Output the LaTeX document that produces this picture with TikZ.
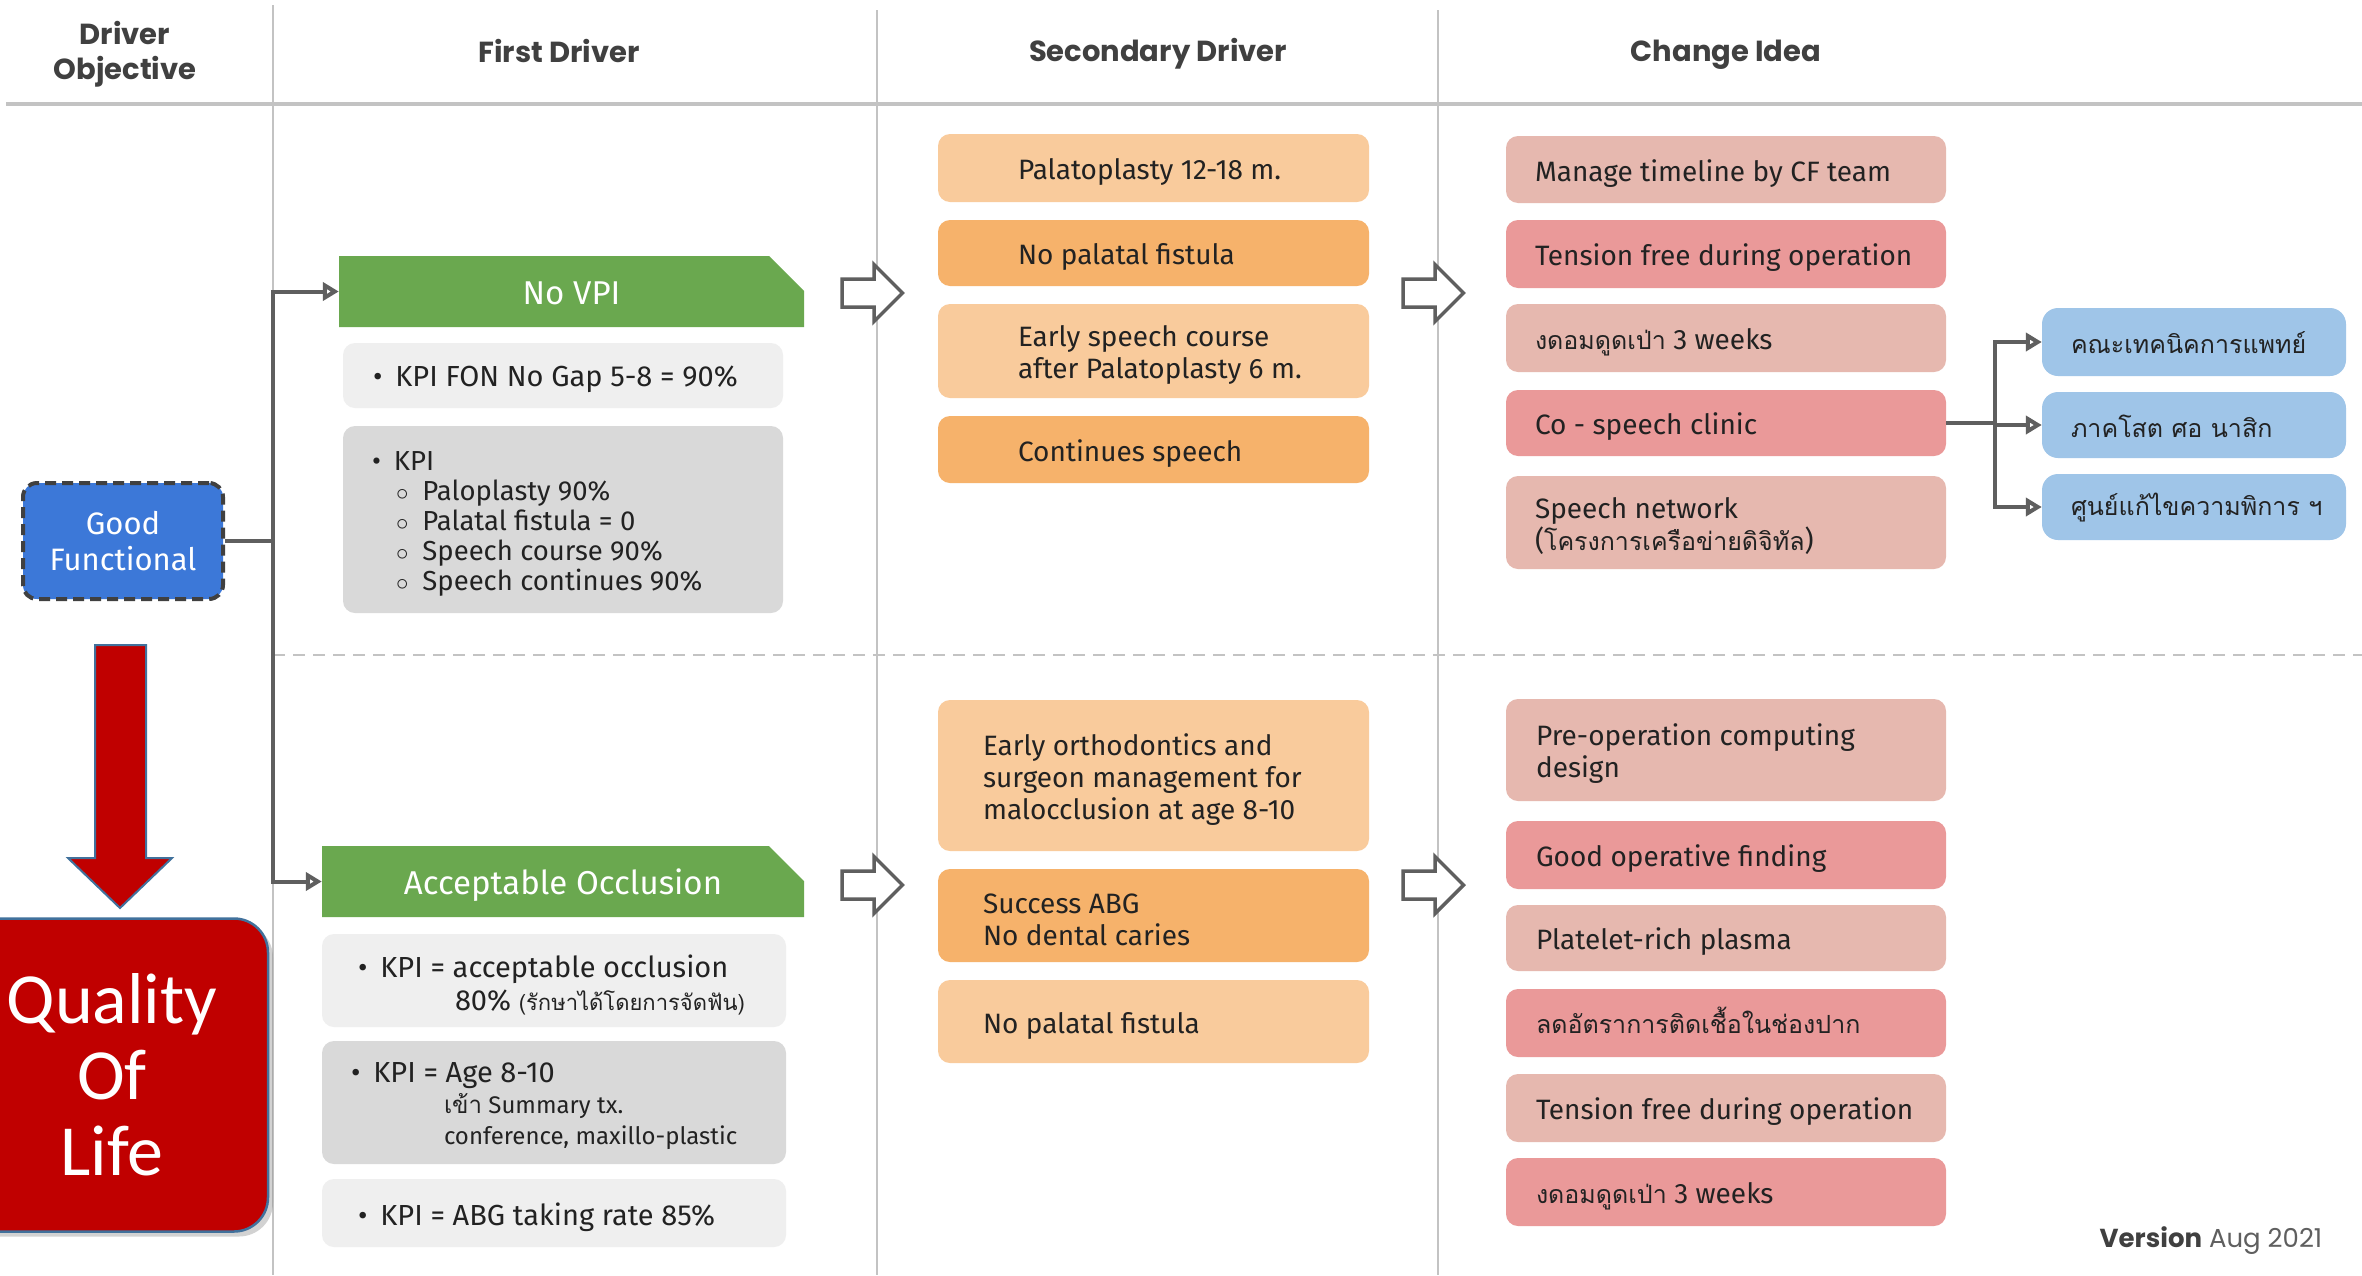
\documentclass[tikz,border=0pt]{standalone}
\usepackage{fontspec}
\setmainfont{Fira Sans}
\newfontfamily\thai[Script=Thai]{Loma}
\newfontfamily\headfont{Poppins}
\newfontfamily\qolfont{Carlito}
\usetikzlibrary{positioning, arrows.meta, shapes.misc, shadows}

\definecolor{drvgreen}{HTML}{6AA84F}
\definecolor{kpilight}{HTML}{EFEFEF}
\definecolor{kpidark}{HTML}{D9D9D9}
\definecolor{orlight}{HTML}{F9CB9C}
\definecolor{ordark}{HTML}{F6B26B}
\definecolor{pklight}{HTML}{E6B8AF}
\definecolor{pkdark}{HTML}{EA9999}
\definecolor{deptblue}{HTML}{9FC5E8}
\definecolor{goalblue}{HTML}{3C78D8}
\definecolor{qolred}{HTML}{C00000}
\definecolor{qoledge}{HTML}{41719C}
\definecolor{linegrey}{HTML}{5F5F5F}
\definecolor{rulegrey}{HTML}{C3C3C3}
\definecolor{headgrey}{HTML}{404040}
\definecolor{textdark}{HTML}{222222}

\newcommand{\boxfont}{\fontsize{28}{32}\selectfont}
\newcommand{\thaitxt}[1]{{\thai\fontsize{25}{31}\selectfont#1}}

\begin{document}
\begin{tikzpicture}[x=1pt, y=-1pt,
    hdr/.style={font=\headfont\bfseries\fontsize{29}{35}\selectfont, text=headgrey, align=center},
    rule/.style={draw=rulegrey, line width=2.5pt},
    box/.style={rectangle, rounded corners=12pt, inner sep=0pt},
    lbl/.style={inner sep=0pt, align=left, font=\boxfont, text=textdark, yshift=-4pt},
    drv/.style={chamfered rectangle, chamfered rectangle corners=north east,
        chamfered rectangle xsep=22pt, chamfered rectangle ysep=22pt, inner sep=0pt,
        fill=drvgreen, minimum width=465pt, minimum height=71pt, text=white,
        text height=26pt, text depth=-18pt, font=\fontsize{33}{38}\selectfont},
    goal/.style={box, rounded corners=14pt, fill=goalblue, draw=headgrey, line width=4pt,
        dash pattern=on 11pt off 6pt, minimum width=200pt, minimum height=116pt,
        text=white, align=center, font=\fontsize{31}{36}\selectfont},
    qol/.style={box, rounded corners=34pt, fill=qolred, draw=qoledge, line width=2.5pt,
        minimum width=312pt, minimum height=313pt, text=white, align=center,
        font=\qolfont\fontsize{72}{76}\selectfont,
        drop shadow={shadow xshift=5pt, shadow yshift=-5pt, opacity=0.35}},
    sdr/.style={box, minimum width=431pt},
    chg/.style={box, minimum width=440pt},
    dept/.style={box, rounded corners=16pt, fill=deptblue, minimum width=304pt},
    wire/.style={draw=linegrey, line width=4pt},
    conn/.style={wire, -{Triangle[open, length=16pt, width=18pt]}},
    blockarrow/.style={draw=linegrey, line width=3.5pt, fill=white, line join=miter},
  ]
  \useasboundingbox (0,0) rectangle (2362,1275);
  \fill[white] (0,0) rectangle (2362,1275);

  % column heads and rules
  \node[hdr] (hobj) at (125,54) {Driver\\Objective};
  \node[hdr] (hfirst) at (559,51) {First Driver};
  \node[hdr] (hsec) at (1158,54) {Secondary Driver};
  \node[hdr] (hidea) at (1726,55) {Change Idea};

  \draw[rule, line width=4pt] (6,104) -- (2362,104);
  \foreach \x/\top in {273/5, 877/10, 1438/10}
    \draw[rule] (\x,\top) -- (\x,1275);
  \draw[rule, dash pattern=on 12pt off 8pt] (273,655) -- (2362,655);

  % block arrows between the columns
  \foreach \x/\y in {842/293, 1403/293, 842/885, 1403/885}
    \draw[blockarrow] (\x,\y-14) -- ++(32,0) -- ++(0,-14.5) -- ++(28.5,28.5)
      -- ++(-28.5,28.5) -- ++(0,-14.5) -- ++(-32,0) -- cycle;

  % objective
  \node[goal] (gf) at (123,541) {Good\\Functional};
  \draw[draw=qoledge, line width=2pt, fill=qolred] (95,645) -- (146,645) -- (146,858)
    -- (172,858) -- (120,908) -- (68,858) -- (95,858) -- cycle;
  \node[qol] (qol) at (112,1075) {Quality\\Of\\Life};

  % first drivers
  \node[drv] (novpi) at (571.5,291.5) {No VPI};
  \node[drv, minimum width=482pt] (accocc) at (563,881.5) {Acceptable Occlusion};

  \node[box, fill=kpilight, minimum width=440pt, minimum height=65pt] (kpi1) at (563,375.5) {};
  \node[lbl, right=30pt of kpi1.west, font=\fontsize{29}{32}\selectfont] (kpit1)
    {\textbullet\hspace{13pt}KPI FON No Gap 5-8 = 90\%};

  \node[box, fill=kpidark, minimum width=440pt, minimum height=187pt] (kpi2) at (563,519.5) {};
  \node[lbl, right=29pt of kpi2.west, font=\fontsize{27.5}{30}\selectfont] (kpit2) {%
    \textbullet\hspace{13pt}KPI\\
    \hspace*{24pt}$\circ$\hspace{14pt}Paloplasty 90\%\\
    \hspace*{24pt}$\circ$\hspace{14pt}Palatal fistula = 0\\
    \hspace*{24pt}$\circ$\hspace{14pt}Speech course 90\%\\
    \hspace*{24pt}$\circ$\hspace{14pt}Speech continues 90\%};

  \node[box, fill=kpilight, minimum width=464pt, minimum height=93pt] (kpi3) at (554,980.5) {};
  \node[lbl, right=36pt of kpi3.west, font=\fontsize{29}{33}\selectfont] (kpit3) {%
    \textbullet\hspace{13pt}KPI = acceptable occlusion\\
    \hspace*{97pt}80\% {\thai\fontsize{22}{33}\selectfont(รักษาได้โดยการจัดฟัน)}};

  \node[box, fill=kpidark, minimum width=464pt, minimum height=123pt] (kpi4) at (554,1102.5) {};
  \node[lbl, right=29pt of kpi4.west, font=\fontsize{29}{31}\selectfont] (kpit4) {%
    \textbullet\hspace{13pt}KPI = Age 8-10\\
    {\fontsize{24}{30}\selectfont\hspace*{93pt}{\thai เข้า} Summary tx.}\\
    {\fontsize{24}{30}\selectfont\hspace*{93pt}conference, maxillo-plastic}};

  \node[box, fill=kpilight, minimum width=464pt, minimum height=68pt] (kpi5) at (554,1213) {};
  \node[lbl, right=36pt of kpi5.west, font=\fontsize{29}{32}\selectfont] (kpit5)
    {\textbullet\hspace{13pt}KPI = ABG taking rate 85\%};

  % secondary drivers
  \foreach \cy/\hh/\col/\txt [count=\i] in {
      168/68/orlight/{Palatoplasty 12-18 m.},
      253/66/ordark/{No palatal fistula},
      351/94/orlight/{Early speech course\\after Palatoplasty 6 m.},
      449.5/67/ordark/{Continues speech}}{%
    \node[sdr, fill=\col, minimum height=\hh] (sa\i) at (1153.5,\cy) {};
    \node[lbl, right=80pt of sa\i.west] (sat\i) {\txt};
  }
  \foreach \cy/\hh/\col/\txt [count=\i] in {
      775.5/151/orlight/{Early orthodontics and\\surgeon management for\\malocclusion at age 8-10},
      915.5/93/ordark/{Success ABG\\No dental caries},
      1021.5/83/orlight/{No palatal fistula}}{%
    \node[sdr, fill=\col, minimum height=\hh] (sb\i) at (1153.5,\cy) {};
    \node[lbl, right=45pt of sb\i.west] (sbt\i) {\txt};
  }

  % change ideas
  \foreach \cy/\hh/\col/\txt [count=\i] in {
      169.5/67/pklight/{Manage timeline by CF team},
      254/68/pkdark/{Tension free during operation},
      338/68/pklight/{\thaitxt{งดอมดูดเป่า} 3 weeks},
      423/66/pkdark/{Co - speech clinic},
      522.5/93/pklight/{Speech network\\(\thaitxt{โครงการเครือข่ายดิจิทัล})}}{%
    \node[chg, fill=\col, minimum height=\hh] (ca\i) at (1726,\cy) {};
    \node[lbl, right=29pt of ca\i.west] (cat\i) {\txt};
  }
  \foreach \cy/\hh/\col/\dy/\txt [count=\i] in {
      750/102/pklight/0pt/{Pre-operation computing\\design},
      855/68/pkdark/0pt/{Good operative finding},
      938/66/pklight/0pt/{Platelet-rich plasma},
      1023/68/pkdark/7pt/{\thaitxt{ลดอัตราการติดเชื้อในช่องปาก}},
      1108/68/pklight/0pt/{Tension free during operation},
      1192/68/pkdark/0pt/{\thaitxt{งดอมดูดเป่า} 3 weeks}}{%
    \node[chg, fill=\col, minimum height=\hh] (cb\i) at (1726,\cy) {};
    \node[lbl, right=30pt of cb\i.west, yshift=\dy] (cbt\i) {\txt};
  }

  % partners of the speech clinic
  \foreach \cy/\hh/\txt [count=\i] in {
      342/68/{คณะเทคนิคการแพทย์},
      425/66/{ภาคโสต ศอ นาสิก},
      507/66/{ศูนย์แก้ไขความพิการ ฯ}}{%
    \node[dept, minimum height=\hh] (dp\i) at (2194,\cy) {};
    \node[lbl, right=29pt of dp\i.west, yshift=3pt] (dpt\i) {\thaitxt{\txt}};
  }

  % connectors
  \coordinate (fork) at (273,541);
  \draw[wire] (gf) -- (fork);
  \draw[conn] (fork) |- (novpi);
  \draw[conn] (fork) |- (accocc);

  \coordinate (split) at (1995,423);
  \draw[wire] (ca4) -- (split);
  \foreach \k in {1,2,3}
    \draw[conn] (split) |- (dp\k);

  \node[font=\headfont\fontsize{26}{30}\selectfont, text=headgrey] (ver) at (2211,1241)
    {\textbf{Version} \textcolor{linegrey}{Aug 2021}};
\end{tikzpicture}
\end{document}
